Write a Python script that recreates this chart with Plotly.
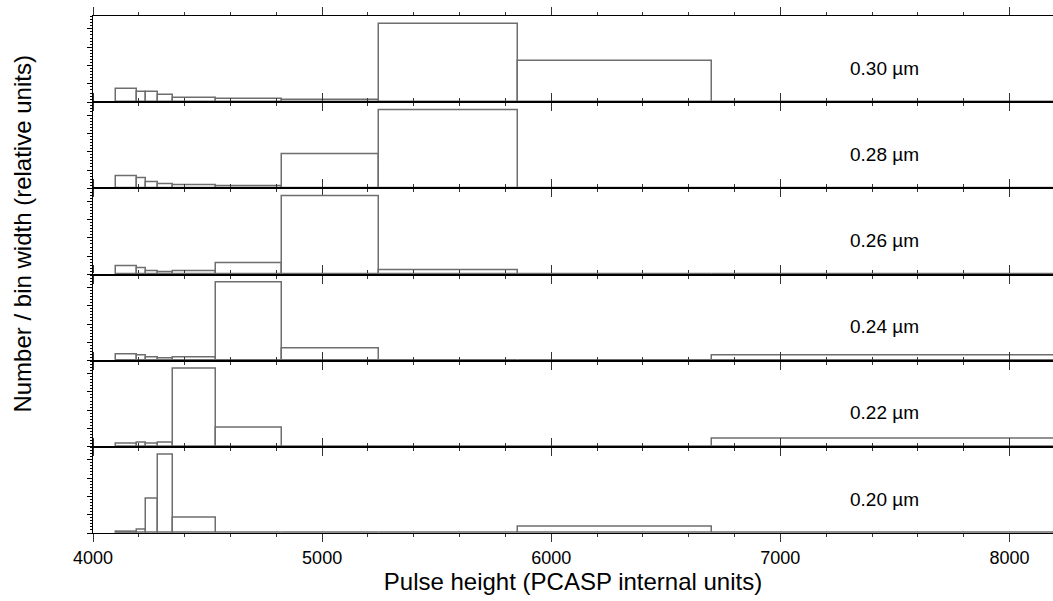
import plotly.graph_objects as go
from plotly.subplots import make_subplots

# Bin edges (PCASP internal units)
bin_edges = [4100, 4190, 4230, 4282, 4347, 4537, 4824, 5250, 5855, 6700, 8400]

# Relative number / bin width for each calibration particle size (top to bottom)
sizes = ["0.30 µm", "0.28 µm", "0.26 µm", "0.24 µm", "0.22 µm", "0.20 µm"]
vals_030 = [0.17, 0.13, 0.13, 0.094, 0.055, 0.038, 0.03, 1.0, 0.52, 0.0]
vals_028 = [0.16, 0.136, 0.077, 0.055, 0.038, 0.033, 0.44, 1.0, 0.005, 0.0]
vals_026 = [0.10, 0.085, 0.038, 0.026, 0.043, 0.146, 1.0, 0.05, 0.005, 0.0]
vals_024 = [0.077, 0.064, 0.04, 0.026, 0.045, 1.0, 0.15, 0.002, 0.002, 0.07]
vals_022 = [0.035, 0.05, 0.043, 0.05, 1.0, 0.25, 0.002, 0.002, 0.004, 0.10]
vals_020 = [0.02, 0.046, 0.43, 1.0, 0.2, 0.005, 0.003, 0.003, 0.077, 0.003]
all_vals = [vals_030, vals_028, vals_026, vals_024, vals_022, vals_020]

x_major = [4000, 5000, 6000, 7000, 8000]

centers = [(a + b) / 2 for a, b in zip(bin_edges[:-1], bin_edges[1:])]
widths = [b - a for a, b in zip(bin_edges[:-1], bin_edges[1:])]

n = len(sizes)
fig = make_subplots(rows=n, cols=1, shared_xaxes=True, vertical_spacing=0)

FONT = "Liberation Sans, Arial, sans-serif"
for i, (lab, vals) in enumerate(zip(sizes, all_vals)):
    r = i + 1
    fig.add_trace(go.Bar(
        x=centers, y=vals, width=widths,
        marker=dict(color="white", line=dict(color="#6e6e6e", width=1.5)),
        showlegend=False, hoverinfo="skip"), row=r, col=1)
    fig.add_annotation(x=7455, y=0.434, text=lab, showarrow=False,
                       xanchor="center", yanchor="middle",
                       font=dict(family=FONT, size=19, color="black"),
                       row=r, col=1)
    fig.update_yaxes(range=[0, 1.1], showline=True, linecolor="black", linewidth=1,
                     ticks="outside", ticklen=5, tickcolor="black", tickwidth=1,
                     dtick=0.234, tick0=0, showticklabels=False, showgrid=False,
                     zeroline=False, automargin=False,
                     minor=dict(ticks="outside", ticklen=2.5, dtick=0.039,
                                tickcolor="black", showgrid=False),
                     row=r, col=1)
    fig.update_xaxes(range=[4000, 8190], showline=True, linecolor="black", linewidth=1.2,
                     mirror="ticks",
                     ticks="outside", ticklen=8, tickcolor="#333", tickwidth=1,
                     tickvals=x_major, ticktext=[str(v) for v in x_major],
                     showgrid=False, zeroline=False, automargin=False,
                     minor=dict(ticks="outside", ticklen=3, dtick=200, tick0=4000,
                                tickcolor="#333", showgrid=False),
                     tickfont=dict(family=FONT, size=18, color="black"),
                     row=r, col=1)

fig.update_xaxes(title=dict(text="Pulse height (PCASP internal units)",
                            font=dict(family=FONT, size=24, color="black"), standoff=6),
                 row=n, col=1)

fig.add_annotation(text="Number / bin width (relative units)", xref="paper", yref="paper",
                   x=-0.073, y=0.579, textangle=-90, showarrow=False,
                   xanchor="center", yanchor="middle",
                   font=dict(family=FONT, size=24, color="black"))

fig.update_layout(width=1053, height=601, margin=dict(l=93, r=0, t=16, b=68),
                  plot_bgcolor="white", paper_bgcolor="white", bargap=0,
                  hovermode=False,
                  font=dict(family=FONT, color="black"))

fig.write_html("out.html", config={"displayModeBar": False},
               post_script="document.body.style.margin='0px';document.body.style.overflow='hidden';")
